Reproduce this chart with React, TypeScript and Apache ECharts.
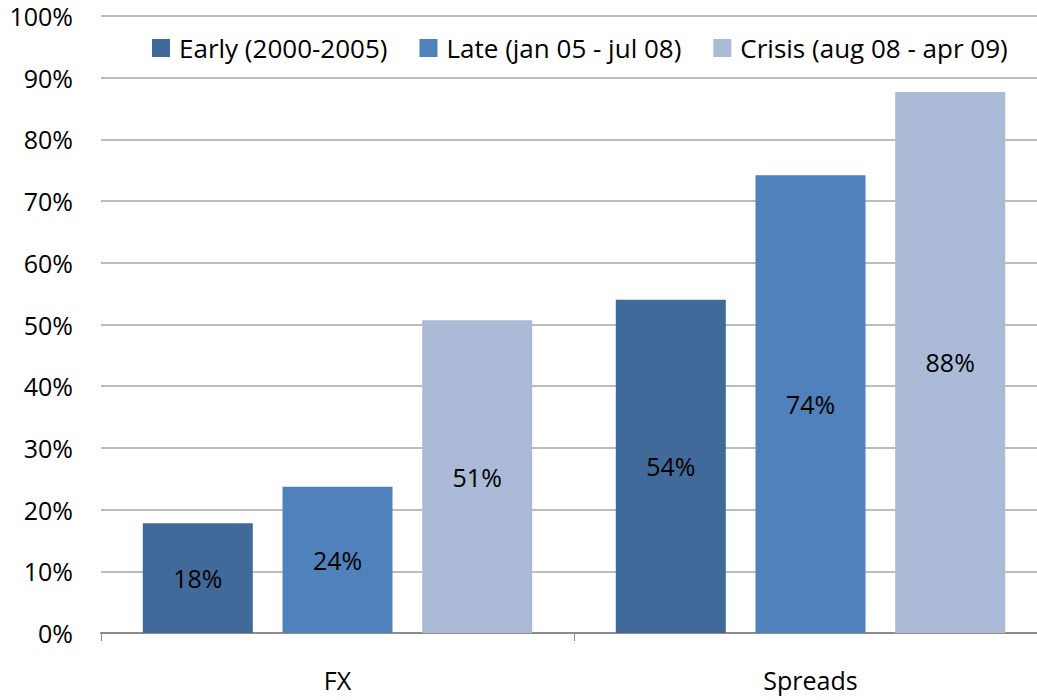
import React, { useEffect, useRef } from "react";
import * as echarts from "echarts";

const categories = ["FX", "Spreads"];
const seriesNames = ["Early (2000-2005)", "Late (jan 05 - jul 08)", "Crisis (aug 08 - apr 09)"];
const earlyValues = [17.8, 54.0];
const lateValues = [23.7, 74.2];
const crisisValues = [50.7, 87.7];
const colors = ["#416A9B", "#4F81BD", "#AABAD7"];

const FONT = "'Open Sans', sans-serif";

export default function App() {
  const ref = useRef<HTMLDivElement>(null);
  useEffect(() => {
    if (!ref.current) return;
    const chart = echarts.init(ref.current, null, { renderer: "svg" });
    const data = [earlyValues, lateValues, crisisValues];
    chart.setOption({
      animation: false,
      textStyle: { fontFamily: FONT },
      color: colors,
      legend: {
        left: 147,
        top: 30,
        itemWidth: 18,
        itemHeight: 18,
        itemGap: 32,
        icon: "rect",
        textStyle: { fontSize: 26, color: "#000", fontFamily: FONT, padding: [0, 0, 0, 4] },
        data: seriesNames,
      },
      grid: { left: 101, right: 0, top: 16, bottom: 67, containLabel: false },
      xAxis: {
        type: "category",
        data: categories,
        axisLine: { lineStyle: { color: "#8c8c8c", width: 2 } },
        axisTick: { show: true, length: 8, lineStyle: { color: "#8c8c8c" } },
        axisLabel: { fontSize: 25, color: "#000", margin: 34, fontFamily: FONT },
      },
      yAxis: {
        type: "value",
        min: 0,
        max: 100,
        interval: 10,
        axisLine: { show: false },
        axisTick: { show: false },
        axisLabel: { formatter: "{value}%", fontSize: 25, color: "#000", margin: 28, fontFamily: FONT },
        splitLine: { lineStyle: { color: "#a6a6a6", width: 1.5 } },
      },
      series: seriesNames.map((name, i) => ({
        name,
        type: "bar",
        data: data[i],
        barWidth: 110,
        barGap: "27%",
        itemStyle: { color: colors[i] },
        label: {
          show: true,
          position: "inside",
          fontSize: 25,
          color: "#000",
          fontFamily: FONT,
          formatter: (p: any) => Math.round(p.value) + "%",
        },
      })),
    });
    return () => chart.dispose();
  }, []);
  return (
    <div style={{ position: "absolute", left: 0, top: 0, width: 1037, height: 700, overflow: "hidden" }}>
      <div ref={ref} style={{ width: 1047, height: 700 }} />
    </div>
  );
}
